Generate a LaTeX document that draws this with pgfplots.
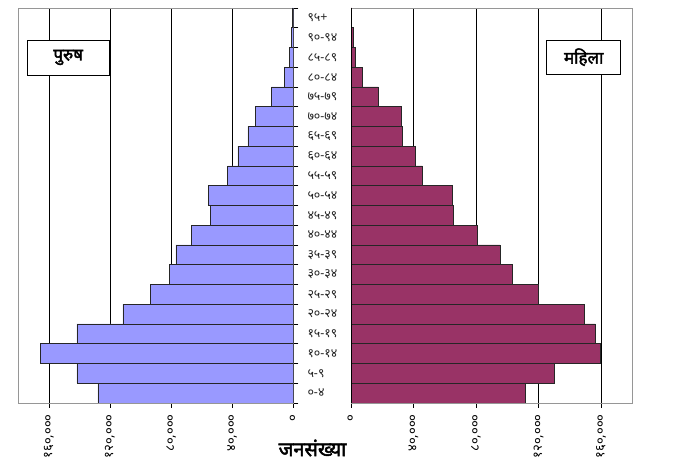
\documentclass[border=0pt]{standalone}
\usepackage{fontspec}
\usepackage{pgfplots}
\pgfplotsset{compat=1.18}
\setmainfont[Script=Devanagari]{Noto Sans}
\newfontfamily\devfont[Script=Devanagari]{Noto Sans}
\newfontfamily\devbold[Script=Devanagari, FakeBold=2.5]{Noto Sans}
\definecolor{male}{RGB}{153,153,255}
\definecolor{female}{RGB}{153,51,102}
\definecolor{frame}{RGB}{150,150,150}

\pgfplotsset{
  pyramid/.style={
    scale only axis, height=395bp,
    xbar, bar width=1, bar shift=0,
    xmin=0, xmax=180000, ymin=-0.5, ymax=19.5,
    scaled x ticks=false,
    axis line style={frame, line width=0.7pt},
    xtick={0,40000,80000,120000,160000},
    xticklabels={०,{४०,०००},{८०,०००},{१२०,०००},{१६०,०००}},
    xticklabel style={rotate=90, anchor=east, font=\devfont\fontsize{13}{15}\selectfont},
    xticklabel shift=3bp,
    xtick pos=bottom,
    tick align=outside, major tick length=5bp,
    tick style={black, line width=0.6pt},
    xmajorgrids, grid style={black, line width=0.6pt},
  }
}

\begin{document}
\begin{tikzpicture}
\useasboundingbox (0,0) rectangle (693bp,472bp);

% male
\begin{axis}[pyramid,
  at={(18.3bp,69bp)}, anchor=south west, width=275bp,
  x dir=reverse,
  ytick={-0.5,0.5,...,19.5}, yticklabels={},
  ytick pos=right,
]
\addplot[fill=male, draw=black!85, line width=0.6pt] coordinates {
  (127900,0) (141600,1) (165400,2) (141600,3) (111500,4)
  (93300,5) (81100,6) (76900,7) (66600,8) (54400,9)
  (55700,10) (42900,11) (36300,12) (29700,13) (24700,14)
  (14400,15) (5900,16) (2600,17) (1500,18) (800,19)
};
\draw[black, line width=0.8pt] (axis cs:0,-0.5) -- (axis cs:0,19.5);
\end{axis}

% female
\begin{axis}[pyramid,
  at={(351bp,69bp)}, anchor=south west, width=281.3bp,
  ytick={0,1,...,19},
  yticklabels={०-४,५-९,१०-१४,१५-१९,२०-२४,२५-२९,३०-३४,३५-३९,४०-४४,४५-४९,
    ५०-५४,५५-५९,६०-६४,६५-६९,७०-७४,७५-७९,८०-८४,८५-८९,९०-९४,९५+},
  ytick pos=left,
  y tick style={draw=none},
  yticklabel style={anchor=west, xshift=-42bp, text=black!85,
    font=\devfont\fontsize{12.5}{13}\selectfont},
]
\addplot[fill=female, draw=black!85, line width=0.6pt] coordinates {
  (111300,0) (130300,1) (159600,2) (156400,3) (149400,4)
  (119700,5) (103200,6) (95300,7) (80600,8) (65600,9)
  (64500,10) (45600,11) (41200,12) (33100,13) (32500,14)
  (17500,15) (7500,16) (2800,17) (1700,18) (500,19)
};
\draw[black, line width=0.8pt] (axis cs:0,-0.5) -- (axis cs:0,19.5);
\end{axis}

\node[draw=black, line width=0.7pt, fill=white, minimum width=82bp, minimum height=35bp]
  at (68.2bp,414.5bp) {\devbold\fontsize{17}{19}\selectfont पुरुष};
\node[draw=black, line width=0.7pt, fill=white, minimum width=74bp, minimum height=34bp]
  at (583.7bp,414.8bp) {\devbold\fontsize{17}{19}\selectfont महिला};
\node at (312.5bp,24bp) {\devbold\fontsize{20}{22}\selectfont जनसंख्या};
\end{tikzpicture}
\end{document}
